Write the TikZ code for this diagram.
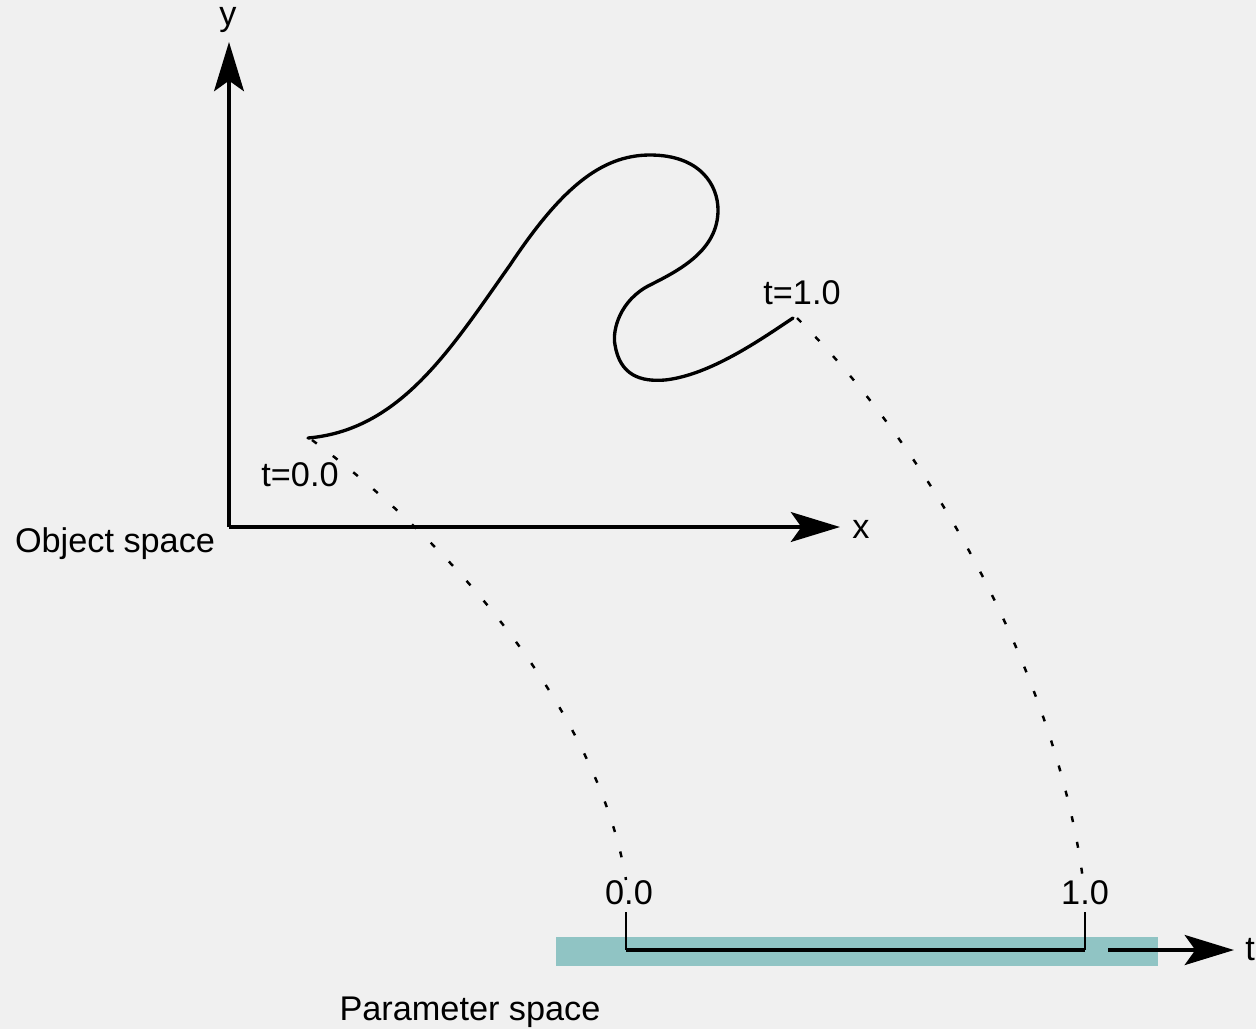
\documentclass[tikz,border=0pt]{standalone}
\usepackage{fontspec}
\setmainfont{Liberation Sans}
\usetikzlibrary{arrows.meta}
\definecolor{bg}{RGB}{240,240,240}
\definecolor{teal}{RGB}{144,196,196}
\begin{document}
\begin{tikzpicture}[x=0.02cm,y=-0.02cm,
  lbl/.style={inner sep=0pt,font=\fontsize{19.5}{22}\selectfont},
  axis/.style={line width=1.9pt,-{Stealth[length=28pt,width=17pt,inset=6pt]}},
  curve/.style={line width=1.9pt,line cap=round},
  map/.style={line width=1.4pt,dash pattern=on 3.4pt off 11.5pt}]
\fill[bg] (0,0) rectangle (1256,1029);
\useasboundingbox (0,0) rectangle (1256,1029);
% object space axes
\coordinate (O) at (229,527);
\coordinate (Ytip) at (229,42);
\coordinate (Xtip) at (840,527);
\draw[axis] (O) -- (Ytip);
\draw[axis] (O) -- (Xtip);
\node[lbl] (ylab) at (228,20) {y};
\node[lbl] (xlab) at (861,529) {x};
\node[lbl] (objlab) at (115,544) {Object space};
% curve
\coordinate (c0) at (308,438);
\coordinate (c1) at (793,318);
\draw[curve] (c0) .. controls (400,430) and (450,350) .. (510,265)
  .. controls (560,190) and (600,155) .. (650,155)
  .. controls (700,155) and (718,185) .. (718,210)
  .. controls (718,250) and (680,270) .. (650,285)
  .. controls (620,300) and (612,330) .. (615,345)
  .. controls (620,375) and (640,382) .. (665,380)
  .. controls (710,375) and (760,340) .. (c1);
\node[lbl] (t0) at (300,475) {t=0.0};
\node[lbl] (t1) at (802,293) {t=1.0};
% parameter space
\fill[teal] (556,937) rectangle (1158,966);
\coordinate (p0) at (626,950);
\coordinate (p1) at (1085,950);
\coordinate (p0top) at (626,912);
\coordinate (p1top) at (1085,912);
\coordinate (tstart) at (1108,950);
\coordinate (ttip) at (1234,950);
\draw[line width=1.4pt] (p0top) -- (p0);
\draw[line width=1.4pt] (p1top) -- (p1);
\draw[line width=2.8pt] (p0) -- (p1);
\draw[line width=2.8pt,-{Stealth[length=28pt,width=17pt,inset=6pt]}] (tstart) -- (ttip);
\node[lbl] (l0) at (629,893) {0.0};
\node[lbl] (l1) at (1085,893) {1.0};
\node[lbl] (tlab) at (1250,950) {t};
\node[lbl] (parlab) at (470,1012) {Parameter space};
% mapping
\coordinate (m0) at (626,880);
\coordinate (m1) at (1083,880);
\draw[map] (312,440) .. controls (500,580) and (605,750) .. (m0);
\draw[map] (797,318) .. controls (950,470) and (1060,700) .. (m1);
\end{tikzpicture}
\end{document}
